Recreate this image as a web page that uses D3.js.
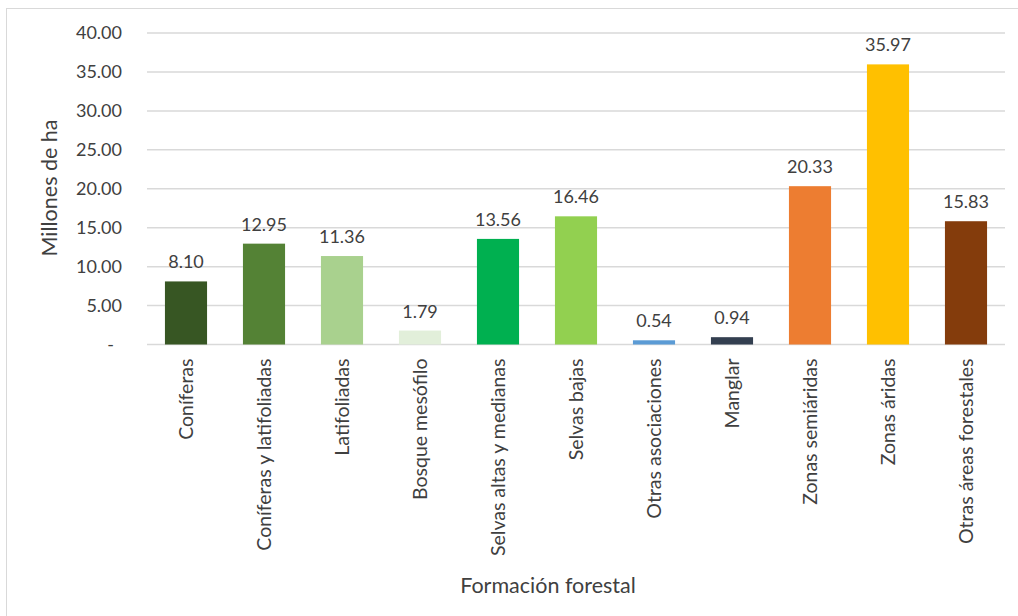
<!DOCTYPE html>
<html>
<head>
<meta charset="utf-8">
<script src="https://cdn.jsdelivr.net/npm/d3@7"></script>
<style>
body { margin: 0; background: #fff; }
svg text { font-family: Lato, "Open Sans", sans-serif; fill: #404040; }
</style>
</head>
<body>
<svg id="chart"></svg>
<script>
var categories = ["Coníferas", "Coníferas y latifoliadas", "Latifoliadas", "Bosque mesófilo",
  "Selvas altas y medianas", "Selvas bajas", "Otras asociaciones", "Manglar",
  "Zonas semiáridas", "Zonas áridas", "Otras áreas forestales"];
var values = [8.10, 12.95, 11.36, 1.79, 13.56, 16.46, 0.54, 0.94, 20.33, 35.97, 15.83];
var colors = ["#375623", "#548235", "#a9d18e", "#e2efda", "#00b050", "#92d050",
  "#5b9bd5", "#333f50", "#ed7d31", "#ffc000", "#843c0c"];
var yTicks = [0, 5, 10, 15, 20, 25, 30, 35, 40];

var svgWidth = 1018, svgHeight = 616;
var plotLeft = 147, plotRight = 1005, plotTop = 33, plotBottom = 344.5;

var chart = d3.select('#chart')
  .attr('width', svgWidth)
  .attr('height', svgHeight);

// frame
chart.append('rect')
  .attr('x', 6.5).attr('y', 8.5)
  .attr('width', 1030).attr('height', 630)
  .attr('fill', 'none')
  .attr('stroke', '#d9d9d9');

var xScale = d3.scaleBand()
  .domain(categories)
  .range([plotLeft, plotRight])
  .paddingInner(0.46)
  .paddingOuter(0.23);

var yScale = d3.scaleLinear()
  .domain([0, 40])
  .range([plotBottom, plotTop]);

// grid
chart.append('g')
  .selectAll('line')
  .data(yTicks)
  .enter().append('line')
  .attr('x1', plotLeft).attr('x2', plotRight)
  .attr('y1', function(d){ return yScale(d); })
  .attr('y2', function(d){ return yScale(d); })
  .attr('stroke', '#d9d9d9')
  .attr('stroke-width', 1.5);

// y axis (zero shows as a dash, accounting style)
var yAxis = chart.append('g')
  .attr('transform', 'translate(' + (plotLeft - 25) + ',0)')
  .call(d3.axisLeft(yScale).tickValues(yTicks).tickSize(0)
    .tickFormat(function(d){ return d === 0 ? '-' : d3.format('.2f')(d); }));
yAxis.select('.domain').remove();
yAxis.selectAll('text')
  .attr('x', function(d){ return d === 0 ? -8 : 0; })
  .style('font-size', '18px')
  .style('font-family', 'Lato, sans-serif')
  .attr('fill', '#404040');

// bars
var data = categories.map(function(c, i){ return {name: c, value: values[i], color: colors[i]}; });

chart.append('g')
  .selectAll('rect')
  .data(data)
  .enter().append('rect')
  .attr('x', function(d){ return xScale(d.name); })
  .attr('y', function(d){ return yScale(d.value); })
  .attr('width', xScale.bandwidth())
  .attr('height', function(d){ return plotBottom - yScale(d.value); })
  .attr('fill', function(d){ return d.color; });

// value labels
chart.append('g')
  .selectAll('text')
  .data(data)
  .enter().append('text')
  .attr('x', function(d){ return xScale(d.name) + xScale.bandwidth() / 2; })
  .attr('y', function(d){ return yScale(d.value) - 13; })
  .attr('text-anchor', 'middle')
  .style('font-size', '18px')
  .text(function(d){ return d.value.toFixed(2); });

// x labels
var xAxis = chart.append('g')
  .attr('transform', 'translate(0,' + plotBottom + ')')
  .call(d3.axisBottom(xScale).tickSize(0));
xAxis.select('.domain').remove();
xAxis.selectAll('text')
  .attr('transform', 'rotate(-90)')
  .attr('x', -14)
  .attr('y', 0)
  .attr('dy', '0.35em')
  .style('text-anchor', 'end')
  .style('font-size', '19.5px')
  .style('font-family', 'Lato, sans-serif')
  .attr('fill', '#404040');

// titles
chart.append('text')
  .attr('transform', 'translate(57,188) rotate(-90)')
  .attr('text-anchor', 'middle')
  .style('font-size', '21.5px')
  .text('Millones de ha');

chart.append('text')
  .attr('x', 548)
  .attr('y', 593)
  .attr('text-anchor', 'middle')
  .style('font-size', '21.5px')
  .text('Formación forestal');
</script>
</body>
</html>
